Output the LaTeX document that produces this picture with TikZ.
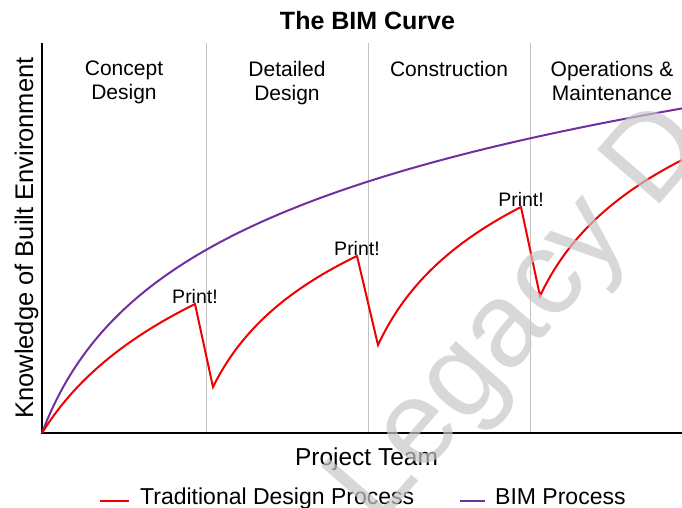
\documentclass[tikz,border=0pt]{standalone}
\usepackage{fontspec}
\setmainfont{Liberation Sans}
\definecolor{bimpurple}{RGB}{112,48,160}
\definecolor{tradred}{RGB}{240,0,0}
\definecolor{sepgray}{RGB}{195,195,195}
\definecolor{wmgray}{RGB}{200,200,200}
\begin{document}
\begin{tikzpicture}[x=1pt,y=-1pt,
  phase/.style={font={\fontsize{21}{24}\selectfont}, align=center, inner sep=0pt, anchor=north},
  printlbl/.style={font={\fontsize{19.5}{22}\selectfont}, inner sep=0pt, anchor=base},
  axisline/.style={black, line width=2pt},
  sepline/.style={sepgray, line width=0.9pt},
  tradline/.style={tradred, line width=2pt, line join=miter},
  bimline/.style={bimpurple, line width=2pt},
  legtext/.style={font={\fontsize{23}{26}\selectfont}, inner sep=0pt, anchor=base west}]
\useasboundingbox (0,0) rectangle (682,508);
\fill[white] (0,0) rectangle (682,508);

% axes and separators
\coordinate (O) at (42,433);
\coordinate (ytop) at (42,43);
\coordinate (xend) at (682,433);
\foreach \xx/\nm in {206/s1,368/s2,530/s3}{
  \coordinate (\nm top) at (\xx,43);
  \coordinate (\nm bot) at (\xx,433);
  \draw[sepline] (\nm top) -- (\nm bot);
}
\draw[axisline] (ytop) -- (O) -- (xend);

% title and phase labels
\node[font={\bfseries\fontsize{25}{30}\selectfont}, inner sep=0pt, anchor=base] (title) at (367.5,30) {The BIM Curve};
\node[phase] (p1) at (124,61) {Concept\\Design};
\node[phase] (p2) at (287,61) {Detailed\\Design};
\node[phase] (p3) at (449,61) {Construction};
\node[phase] (p4) at (612,61) {Operations \&\\Maintenance};

% BIM curve
\draw[bimline] plot[domain=0:640, samples=120, smooth] ({42+\x},{433-119.2*ln(1+\x/45)});

% Traditional curve
\coordinate (pk1) at (195,304);
\coordinate (tr1) at (213,387);
\coordinate (pk2) at (357,256);
\coordinate (tr2) at (378,345);
\coordinate (pk3) at (521,207);
\coordinate (tr3) at (540,296);
\draw[tradline]
  plot[domain=0:153, samples=50, smooth] ({42+\x},{433-109.4*ln(1+\x/68)})
  -- (tr1)
  -- plot[domain=0:144, samples=50, smooth] ({213+\x},{387-131*ln(1+\x/45)/ln(1+144/45)})
  -- (tr2)
  -- plot[domain=0:143, samples=50, smooth] ({378+\x},{345-138*ln(1+\x/45)/ln(1+143/45)})
  -- (tr3)
  -- plot[domain=0:142, samples=50, smooth] ({540+\x},{296-136*ln(1+\x/45)/ln(1+142/45)});

\node[printlbl] (print1) at ([yshift=1pt]pk1) {Print!};
\node[printlbl] (print2) at ([yshift=1pt]pk2) {Print!};
\node[printlbl] (print3) at ([yshift=1pt]pk3) {Print!};

% axis labels
\node[font={\fontsize{24.5}{28}\selectfont}, inner sep=0pt, anchor=base] (xlab) at (366.5,465) {Project Team};
\node[font={\fontsize{25.5}{28}\selectfont}, inner sep=0pt, anchor=base, rotate=90] (ylab) at (33,238) {Knowledge of Built Environment};

% legend
\coordinate (l1a) at (100,500.5);
\coordinate (l1b) at (129,500.5);
\draw[tradred, line width=2pt] (l1a) -- (l1b);
\node[legtext] (leg1) at (140,504) {Traditional Design Process};
\coordinate (l2a) at (460,500.5);
\coordinate (l2b) at (485,500.5);
\draw[bimpurple, line width=2pt] (l2a) -- (l2b);
\node[legtext] (leg2) at (495,504) {BIM Process};

% watermark
\begin{scope}
\clip (0,0) rectangle (682,508);
\node[font={\fontsize{120}{130}\selectfont}, text=wmgray, opacity=0.7, rotate=49, inner sep=0pt] (wm) at (522,318) {Legacy D};
\end{scope}
\end{tikzpicture}
\end{document}
